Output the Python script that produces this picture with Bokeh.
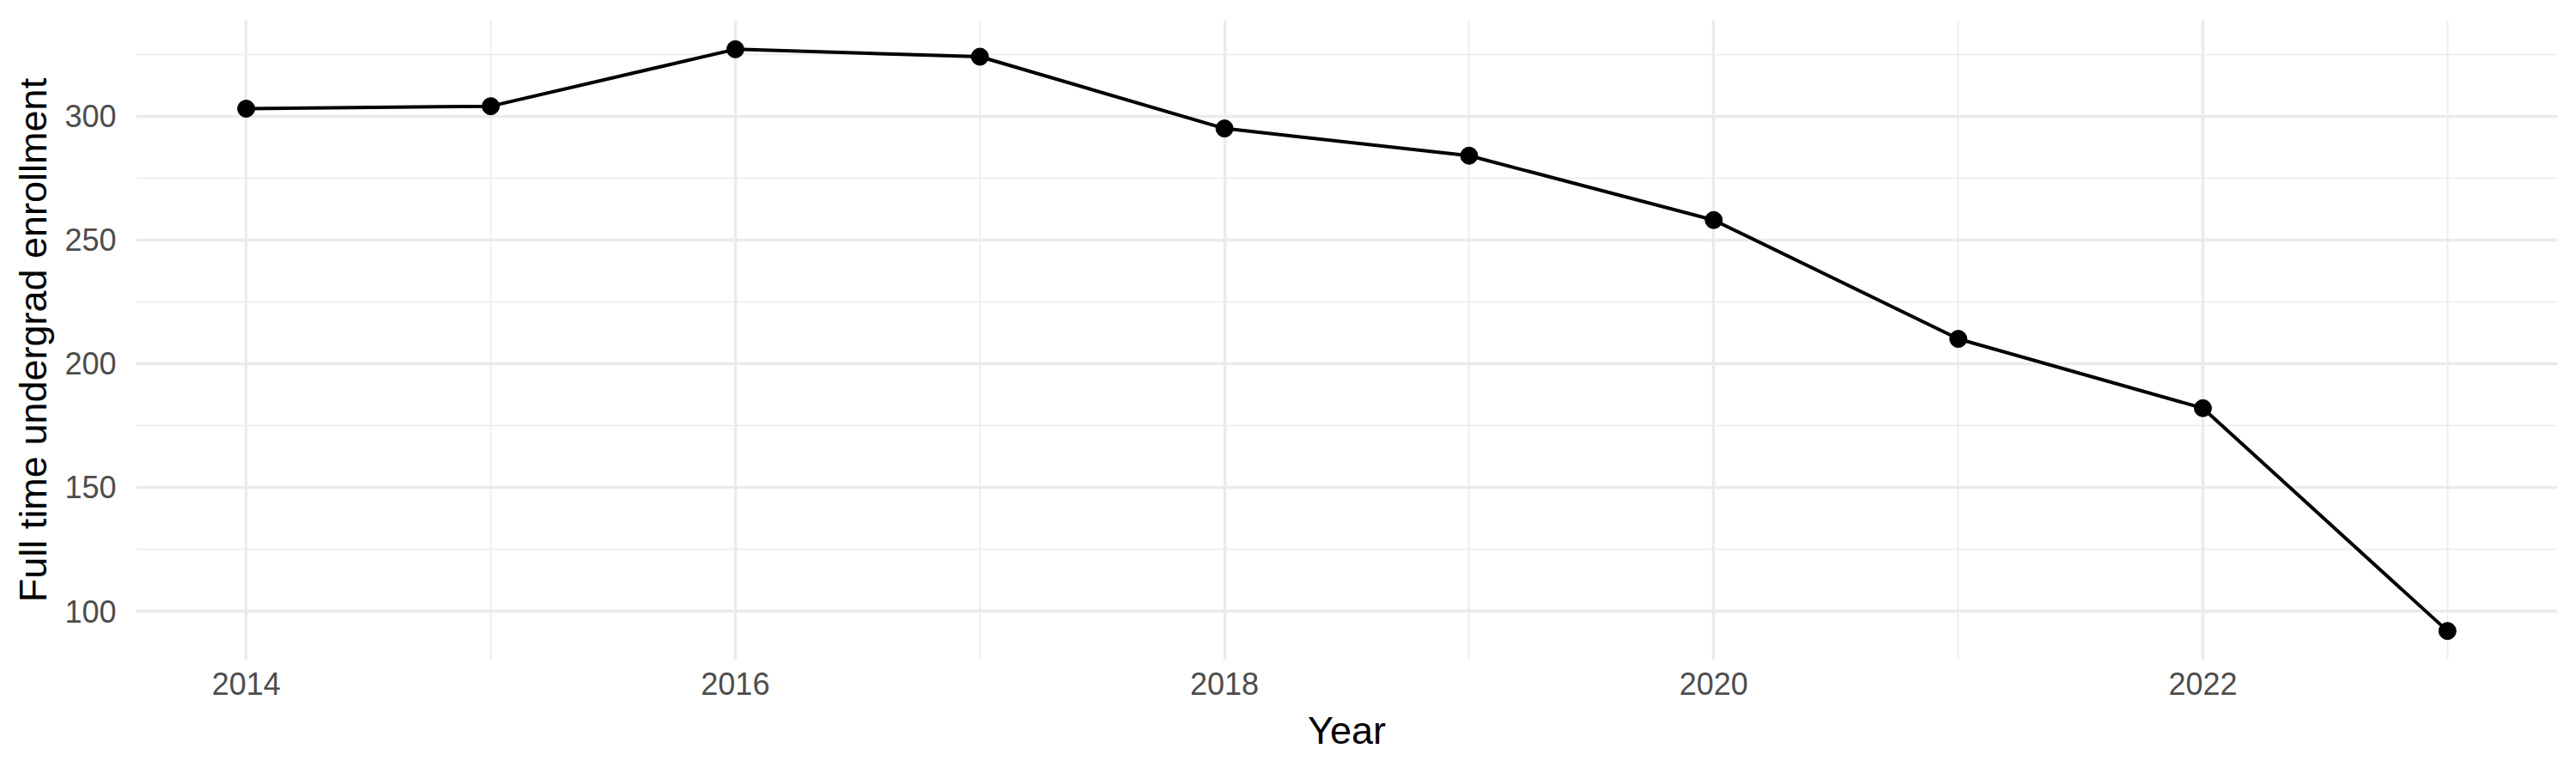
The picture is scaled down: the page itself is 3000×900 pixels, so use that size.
from bokeh.plotting import figure
from bokeh.models import Range1d, SingleIntervalTicker, ColumnDataSource
from bokeh.embed import file_html
from bokeh.resources import INLINE

years = [2014, 2015, 2016, 2017, 2018, 2019, 2020, 2021, 2022, 2023]
enrollment = [303, 304, 327, 324, 295, 284, 258, 210, 182, 92]
x_title = "Year"
y_title = "Full time undergrad enrollment"

src = ColumnDataSource(data=dict(year=years, enrollment=enrollment))

lo, hi = min(enrollment), max(enrollment)
pad = (hi - lo) * 0.05

p = figure(
    width=2984, height=890,
    frame_width=2820, frame_height=745,
    x_range=Range1d(min(years) - 0.45, max(years) + 0.45),
    y_range=Range1d(lo - pad, hi + pad),
    output_backend="svg", toolbar_location=None,
    min_border_left=158, min_border_right=6,
    min_border_top=23, min_border_bottom=122,
)
p.outline_line_color = None
p.background_fill_color = "white"
p.border_fill_color = "white"

p.xaxis.ticker = SingleIntervalTicker(interval=2, num_minor_ticks=2)
p.yaxis.ticker = SingleIntervalTicker(interval=50, num_minor_ticks=2)

for ax in (p.xaxis[0], p.yaxis[0]):
    ax.axis_line_color = None
    ax.major_tick_line_color = None
    ax.minor_tick_line_color = None
    ax.major_tick_out = 0
    ax.major_tick_in = 0
    ax.minor_tick_out = 0
    ax.major_label_text_font = "Liberation Sans"
    ax.major_label_text_font_size = "36px"
    ax.major_label_text_color = "#4D4D4D"
    ax.axis_label_text_font = "Liberation Sans"
    ax.axis_label_text_font_size = "45px"
    ax.axis_label_text_font_style = "normal"
    ax.axis_label_text_color = "black"

p.xaxis.axis_label = x_title
p.yaxis.axis_label = y_title
p.xaxis.major_label_standoff = 14
p.xaxis.axis_label_standoff = 13
p.yaxis.major_label_standoff = 23
p.yaxis.axis_label_standoff = 8

for g in (p.xgrid[0], p.ygrid[0]):
    g.grid_line_color = "#EBEBEB"
    g.grid_line_width = 3.4
    g.minor_grid_line_color = "#EBEBEB"
    g.minor_grid_line_width = 1.7

p.line("year", "enrollment", source=src, line_color="black", line_width=4)
p.scatter("year", "enrollment", source=src, size=20, fill_color="black", line_color="black")

open("out.html", "w").write(file_html(p, INLINE))
